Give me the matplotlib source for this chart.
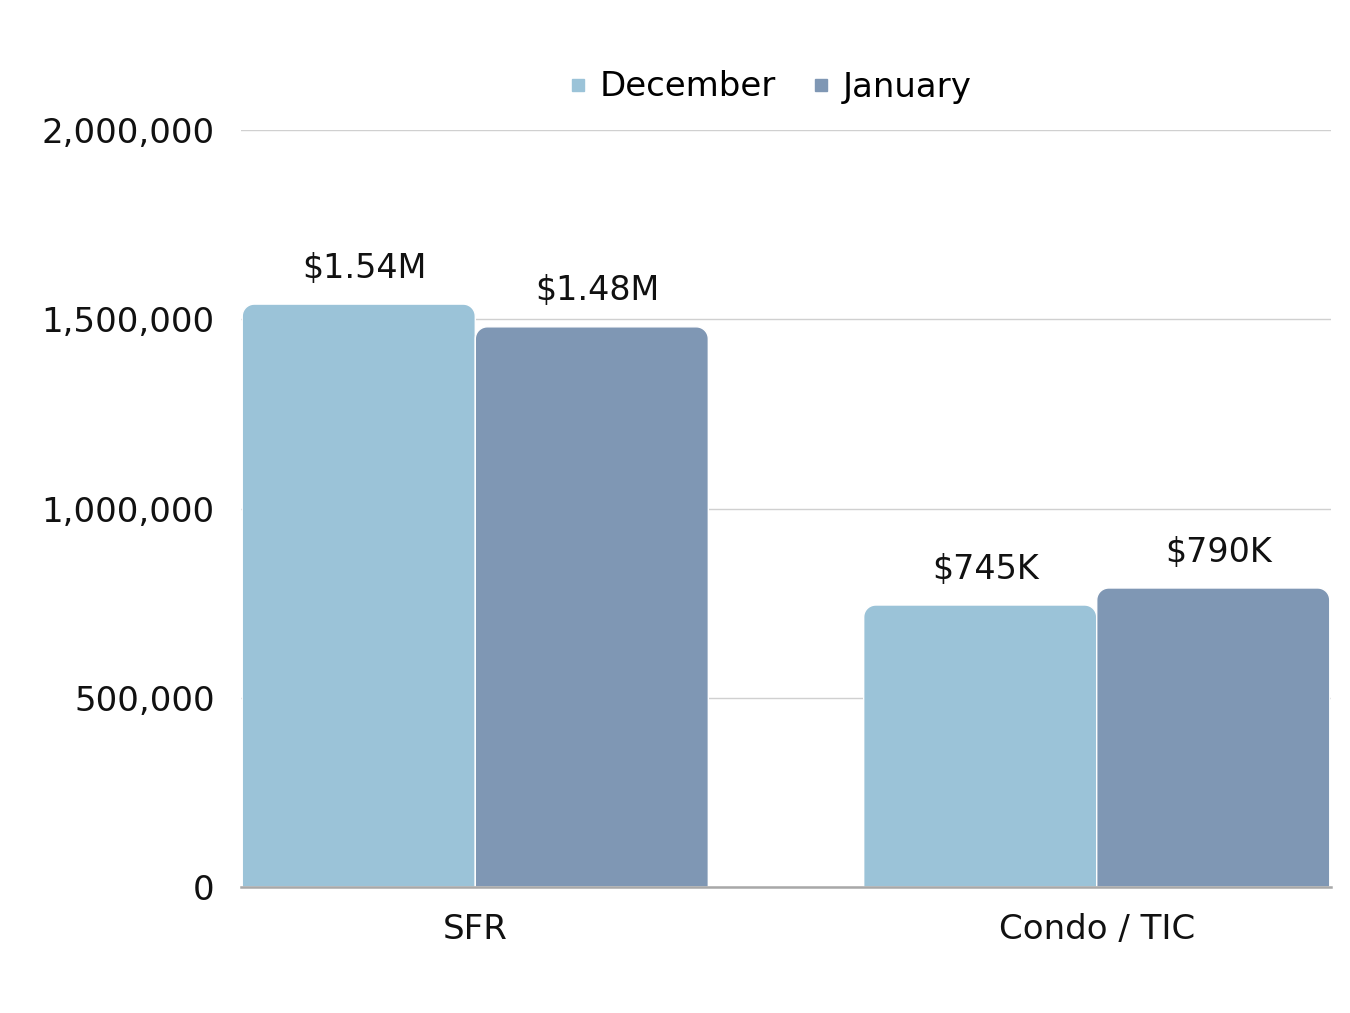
import numpy as np
import matplotlib
matplotlib.use("Agg")
import matplotlib.pyplot as plt
from matplotlib.patches import Polygon
from matplotlib.lines import Line2D

categories = ["SFR", "Condo / TIC"]
series_names = ["December", "January"]
december = [1540000, 745000]
january = [1480000, 790000]
bar_labels = [["$1.54M", "$745K"], ["$1.48M", "$790K"]]
colors = ["#9BC3D8", "#7F97B4"]

plt.rcParams["font.family"] = ["DejaVu Sans"]

fig = plt.figure(figsize=(13.5, 10.13), dpi=100)
ax = fig.add_axes([241 / 1350, 1 - 887 / 1013, 1090 / 1350, 757 / 1013])

x = np.arange(len(categories))
width = 0.375
ax.set_xlim(-0.377, 1.377)
ax.set_ylim(0, 2000000)

# pixel -> data conversion for round corners
px_x = 1090 / (1.377 + 0.377)
px_y = 757 / 2000000
radius_px = 12
rx = radius_px / px_x
ry = radius_px / px_y


def rounded_top_bar(x0, w, h, color):
    """Bar with rounded top corners (circular in pixels)."""
    t = np.linspace(0, np.pi / 2, 12)
    pts = [(x0, 0)]
    # top left corner
    for a in t:
        pts.append((x0 + rx - rx * np.cos(a), h - ry + ry * np.sin(a)))
    # top right corner
    for a in t[::-1]:
        pts.append((x0 + w - rx + rx * np.cos(a), h - ry + ry * np.sin(a)))
    pts.append((x0 + w, 0))
    poly = Polygon(pts, closed=True, facecolor=color, edgecolor="white",
                   linewidth=1.0, zorder=3)
    ax.add_patch(poly)


for i, values in enumerate([december, january]):
    offsets = x + (i - 0.5) * width
    for j, (xc, v) in enumerate(zip(offsets, values)):
        rounded_top_bar(xc - width / 2, width, v, colors[i])
        ax.annotate(bar_labels[i][j], (xc, v), xytext=(4, 14),
                    textcoords="offset points", ha="center", va="bottom",
                    fontsize=24, color="#111111")

ax.set_yticks([0, 500000, 1000000, 1500000, 2000000])
ax.set_yticklabels([f"{v:,}" for v in [0, 500000, 1000000, 1500000, 2000000]])
ax.set_xticks(x)
ax.set_xticklabels(categories)
ax.tick_params(axis="both", length=0, labelsize=24.5, colors="#111111")
ax.tick_params(axis="y", pad=19)
ax.tick_params(axis="x", pad=19)

ax.grid(axis="y", color="#D0D0D0", linewidth=1)
ax.set_axisbelow(True)
for s in ["top", "right", "left"]:
    ax.spines[s].set_visible(False)
ax.spines["bottom"].set_color("#A8A8A8")
ax.spines["bottom"].set_linewidth(1.8)
ax.spines["bottom"].set_zorder(4)

handles = [Line2D([], [], marker="s", linestyle="none", markersize=8,
                  markerfacecolor=c, markeredgecolor=c) for c in colors]
fig.legend(handles, series_names, loc="center",
           bbox_to_anchor=(768 / 1350, 1 - 87 / 1013), ncol=2,
           frameon=False, fontsize=24.5, handletextpad=0.25,
           columnspacing=0.9, handlelength=0.8)

fig.savefig("out.png", dpi=100)
